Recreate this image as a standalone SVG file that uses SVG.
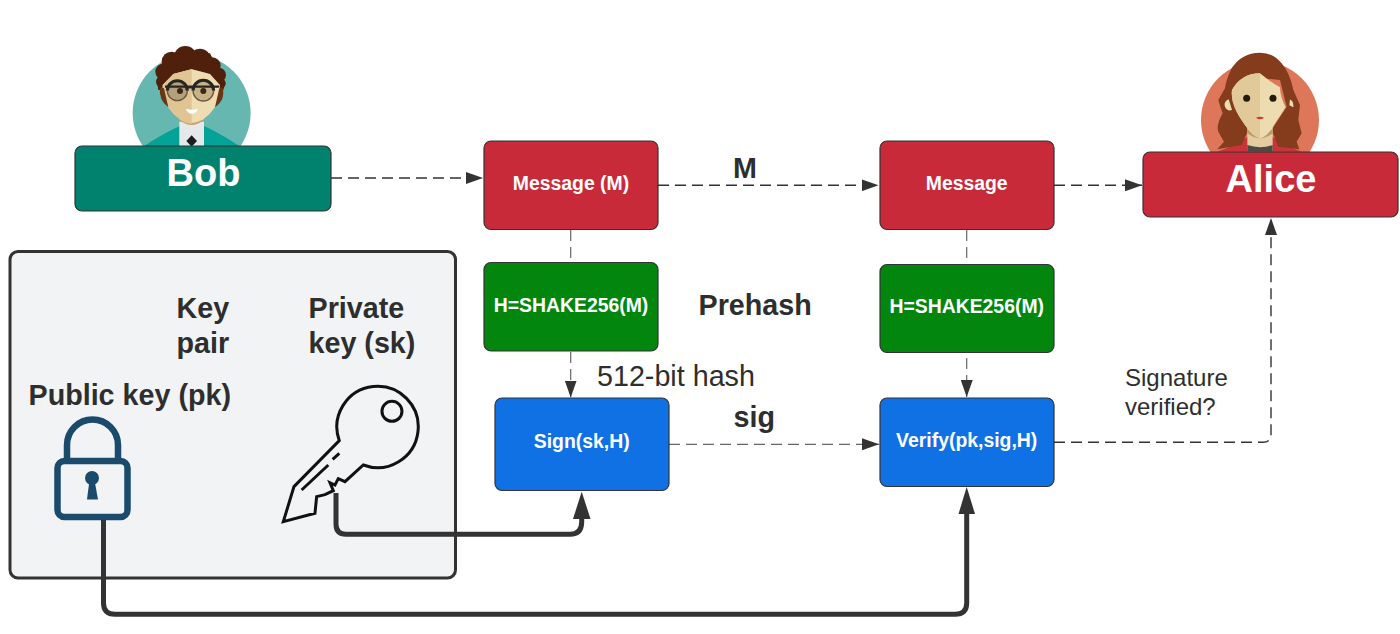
<svg xmlns="http://www.w3.org/2000/svg" width="1400" height="634" viewBox="0 0 1400 634">
<style>
text{font-family:"Liberation Sans",Arial,sans-serif;fill:#2e2e2e}
.box{stroke:#333;stroke-width:1.2}
.w{fill:#fff;font-weight:700;text-anchor:middle}
.sm{font-size:19.400px}
.big{font-size:38px}
.lab{font-size:28.700px;font-weight:700}
.dash{fill:none;stroke:#333;stroke-width:1.4;stroke-dasharray:11 6}
.thin{fill:none;stroke:#666;stroke-width:1.2;stroke-dasharray:11 6}
.thick{fill:none;stroke:#333;stroke-width:5}
.red{fill:#c92a39}.green{fill:#02860d}.blue{fill:#1071e5}
</style>
<defs>
<marker id="tip" markerUnits="userSpaceOnUse" viewBox="0 0 17 12" refX="17" refY="6" markerWidth="17" markerHeight="12" orient="auto"><path d="M0 0L17 6L0 12z" fill="#333"/></marker>
<clipPath id="bobClip"><rect x="100" y="30" width="200" height="116"/></clipPath>
<clipPath id="aliceClip"><rect x="1180" y="30" width="170" height="122"/></clipPath>
</defs>
<rect width="1400" height="634" fill="#fff"/>

<g id="keypair">
<rect x="10" y="251.500" width="445.500" height="326.500" rx="8" fill="#f2f3f5" stroke="#333" stroke-width="3"/>
<text class="lab" x="176.500" y="317.500">Key</text>
<text class="lab" x="176.500" y="352.500">pair</text>
<text class="lab" x="308.500" y="317.500">Private</text>
<text class="lab" x="308.500" y="352.500">key (sk)</text>
<text class="lab" x="28.500" y="405">Public key (pk)</text>
</g>

<g id="lock" fill="none" stroke="#1a4b6d">
<rect x="57.500" y="461" width="70" height="56" rx="7" stroke-width="6.500"/>
<path d="M67 460V445A25.500 25.500 0 0 1 118 445V460" stroke-width="6.500"/>
<circle cx="92" cy="478" r="7" fill="#1a4b6d" stroke="none"/>
<path d="M89.500 480H94.500L98 499.500H87z" fill="#1a4b6d" stroke="none"/>
</g>

<g id="key" transform="translate(20 370) scale(.3333)" fill="none" stroke="#111" stroke-width="9">
<path d="M790 455L822 350L958 212A122 122 0 1 1 1030 285L975 335L955 326L945 345L930 338L940 362L915 374L890 380L885 430z"/>
<circle cx="1116" cy="124" r="30"/>
<path d="M845 360L925 285M938 268L958 250"/>
</g>

<g id="connectors">
<path class="dash" d="M331 178H483" marker-end="url(#tip)"/>
<path class="dash" d="M658 185.300H878.500" marker-end="url(#tip)"/>
<path class="dash" d="M1054 185.300H1142" marker-end="url(#tip)"/>
<path class="thin" d="M570.700 230V262"/>
<path class="thin" d="M570.700 352V397.500" marker-end="url(#tip)"/>
<path class="thin" d="M966.700 230V264"/>
<path class="thin" d="M966.700 358V397" marker-end="url(#tip)"/>
<path class="thin" d="M669 444.300H879" marker-end="url(#tip)"/>
<path class="dash" d="M1054 442.300H1263Q1271 442.300 1271 434V218" marker-end="url(#tip)"/>
<path class="thick" d="M336 493V524Q336 534.300 346 534.300H570Q581.700 534.300 581.700 522V516"/>
<path d="M581.700 491.700L590.500 519H573z" fill="#333"/>
<path class="thick" d="M103.500 520V603Q103.500 614.300 115 614.300H955Q966.700 614.300 966.700 603V512"/>
<path d="M966.700 487L975 514H958.500z" fill="#333"/>
</g>

<!-- avatars are drawn in a 3x grid and scaled down -->
<g id="bob-avatar" clip-path="url(#bobClip)">
<g transform="translate(60 30) scale(.3333)">
<circle cx="395" cy="249" r="177" fill="#66b7b0"/>
<path d="M250 350Q300 315 360 288H432Q490 315 540 350z" fill="#05a298"/>
<path d="M358 275H432V350H358z" fill="#e6e9ea"/>
<path d="M395 316L411 333L395 350L379 333z" fill="#1d1d1d"/>
<path d="M358 230H432V270Q395 300 358 270z" fill="#c4a473"/>
<g fill="#4f200c">
<circle cx="376" cy="82" r="34"/><circle cx="335" cy="95" r="30"/><circle cx="420" cy="88" r="32"/><circle cx="456" cy="108" r="26"/>
<circle cx="310" cy="125" r="24"/><circle cx="476" cy="135" r="22"/><circle cx="306" cy="155" r="18"/><circle cx="482" cy="160" r="15"/>
<path d="M292 160L340 70H450L496 160L490 180L470 180L450 132L395 118L340 132L315 180L295 180z"/>
</g>
<path d="M340 132L395 118L450 132L480 165V190Q475 235 430 268Q395 290 360 268Q315 235 308 190V165z" fill="#efdcb0"/>
<path d="M340 132L395 118V282Q375 280 360 268Q315 235 308 190V165z" fill="#e1c493"/>
<path d="M300 172Q295 210 325 232L312 175zM488 172Q497 210 465 232L478 175z" fill="#6a3416"/>
<circle cx="352" cy="182" r="30" fill="#b3a07c"/>
<circle cx="430" cy="182" r="31" fill="#c5b28a"/>
<path d="M322 182A30 30 0 0 1 382 182M399 182A31 31 0 0 1 461 182" fill="none" stroke="#262622" stroke-width="9"/>
<path d="M322 182A30 30 0 0 0 382 182M399 182A31 31 0 0 0 461 182" fill="none" stroke="#6b5a3c" stroke-width="4"/>
<path d="M315 170H478M380 172H402" stroke="#262622" stroke-width="7"/>
<circle cx="360" cy="183" r="9" fill="#3e2712"/><circle cx="430" cy="183" r="9" fill="#3e2712"/>
<path d="M377 236Q396 242 414 236Q408 251 396 251Q384 251 377 236z" fill="#fff"/>
</g>
</g>

<g id="alice-avatar" clip-path="url(#aliceClip)">
<g transform="translate(1130 30) scale(.3333)">
<circle cx="390" cy="270" r="177" fill="#de765a"/>
<path d="M262 365Q310 350 350 322H430Q470 350 515 365z" fill="#c9333a"/>
<path d="M390 68Q335 68 305 115Q288 150 285 175L265 210Q272 235 278 250Q258 285 265 305L282 335L262 358L335 345L355 300L350 140L450 150L470 230L425 300L445 350L508 358L500 335L515 310L505 270L510 225L490 180Q480 130 455 100Q430 68 390 68z" fill="#843c1c"/>
<path d="M296 208Q280 215 285 230Q292 245 306 240zM480 208Q492 215 490 232L478 226z" fill="#ecdcb0"/>
<path d="M352 280H428V365H352z" fill="#e3cca0"/>
<path d="M352 296Q390 335 428 296V310Q390 340 352 310z" fill="#bd9c6c"/>
<path d="M352 345Q390 358 428 345V365H352z" fill="#4b4a42"/>
<path d="M390 130Q335 130 306 180Q300 225 345 285Q370 322 390 325Q410 322 432 285L467 232Q450 200 450 172Q420 155 390 130z" fill="#ecdcb0"/>
<path d="M390 130Q335 130 306 180Q300 225 345 285Q370 322 390 325z" fill="#e1c99a"/>
<circle cx="350" cy="205" r="10.500" fill="#231a10"/><circle cx="429" cy="205" r="10.500" fill="#231a10"/>
<path d="M378 263Q390 258 402 263Q390 273 378 263z" fill="#d0363a"/>
</g>
</g>

<g id="bob"><rect class="box" x="75" y="146" width="256" height="65" rx="7" fill="#00826e"/><text class="w big" x="203.500" y="185.500">Bob</text></g>
<g id="alice"><rect class="box" x="1143" y="152" width="255" height="65" rx="7" fill="#c92a39"/><text class="w big" x="1271" y="192">Alice</text></g>
<g id="message-m"><rect class="box red" x="484" y="141" width="174" height="88.500" rx="7"/><text class="w sm" x="571" y="190">Message (M)</text></g>
<g id="message"><rect class="box red" x="880" y="141" width="174" height="88.500" rx="7"/><text class="w sm" x="966.700" y="190">Message</text></g>
<g id="hash-sign"><rect class="box green" x="484" y="262.500" width="174" height="88.500" rx="7"/><text class="w sm" x="571" y="311.500">H=SHAKE256(M)</text></g>
<g id="hash-verify"><rect class="box green" x="880" y="264.500" width="174" height="88" rx="7"/><text class="w sm" x="966.700" y="312.500">H=SHAKE256(M)</text></g>
<g id="sign"><rect class="box blue" x="495" y="398" width="174" height="92.500" rx="7"/><text class="w sm" x="581.700" y="448">Sign(sk,H)</text></g>
<g id="verify"><rect class="box blue" x="880" y="398" width="174" height="88.500" rx="7"/><text class="w sm" x="966.700" y="446.500">Verify(pk,sig,H)</text></g>

<g id="labels">
<text class="lab" x="733" y="177.700">M</text>
<text class="lab" x="698.500" y="314.500">Prehash</text>
<text x="597" y="386" font-size="28.700">512-bit hash</text>
<text class="lab" x="733.500" y="426.500">sig</text>
<text x="1125" y="386" font-size="24">Signature</text>
<text x="1125" y="415" font-size="24">verified?</text>
</g>
</svg>
